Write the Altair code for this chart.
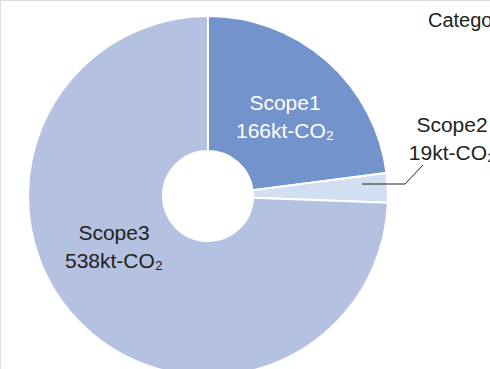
import altair as alt
import pandas as pd

categories = ["Scope1", "Scope2", "Scope3"]
values = [166, 19, 538]
value_labels = ["166kt-CO₂", "19kt-CO₂", "538kt-CO₂"]
colors = ["#7393cc", "#d2def2", "#b5c1e1"]
text_colors = ["#ffffff", "#222222", "#222222"]
legend_title = "Category"

df = pd.DataFrame({"category": categories, "value": values,
                   "idx": list(range(len(categories)))})

W, H = 490, 369
CX, CY = 208, 196

base = alt.Chart(df)

arcs = base.mark_arc(outerRadius=180, innerRadius=45, stroke="white",
                     strokeWidth=2, clip=True).encode(
    theta=alt.Theta("value:Q", stack=True),
    order=alt.Order("idx:Q"),
    color=alt.Color("category:N",
                    scale=alt.Scale(domain=categories, range=colors),
                    legend=None),
    x=alt.value(CX), y=alt.value(CY),
)

label_pos = {"Scope1": (285, 104), "Scope2": (452, 126), "Scope3": (114, 234)}

layers = [arcs]
for cat, lab, tc in zip(categories, value_labels, text_colors):
    px, py = label_pos[cat]
    ldf = pd.DataFrame({"t": [cat + "\n" + lab]})
    layers.append(
        alt.Chart(ldf).mark_text(
            font="Liberation Sans, Arial, Helvetica, sans-serif",
            fontSize=21, lineHeight=28, lineBreak="\n", align="center",
            baseline="middle", color=tc, clip=True,
        ).encode(text="t:N", x=alt.value(px), y=alt.value(py))
    )

# leader line for Scope2
line_df = pd.DataFrame({"a": [0]})
layers.append(alt.Chart(line_df).mark_rule(color="#222222", strokeWidth=1).encode(
    x=alt.value(362), x2=alt.value(405), y=alt.value(184), y2=alt.value(184)))
layers.append(alt.Chart(line_df).mark_rule(color="#222222", strokeWidth=1).encode(
    x=alt.value(405), x2=alt.value(423), y=alt.value(184), y2=alt.value(165)))

# legend title (clipped at right edge)
title_df = pd.DataFrame({"t": [legend_title]})
layers.append(alt.Chart(title_df).mark_text(
    font="Liberation Sans, Arial, Helvetica, sans-serif",
    fontSize=20, align="left", baseline="alphabetic", color="#222222", clip=True,
).encode(text="t:N", x=alt.value(428), y=alt.value(27)))

chart = alt.layer(*layers).properties(
    width=W, height=H, padding=0,
    autosize=alt.AutoSizeParams(type="none"),
).configure_view(stroke=None).configure(background="white")

chart.save("out.html", embed_options={"renderer": "svg", "actions": False})
